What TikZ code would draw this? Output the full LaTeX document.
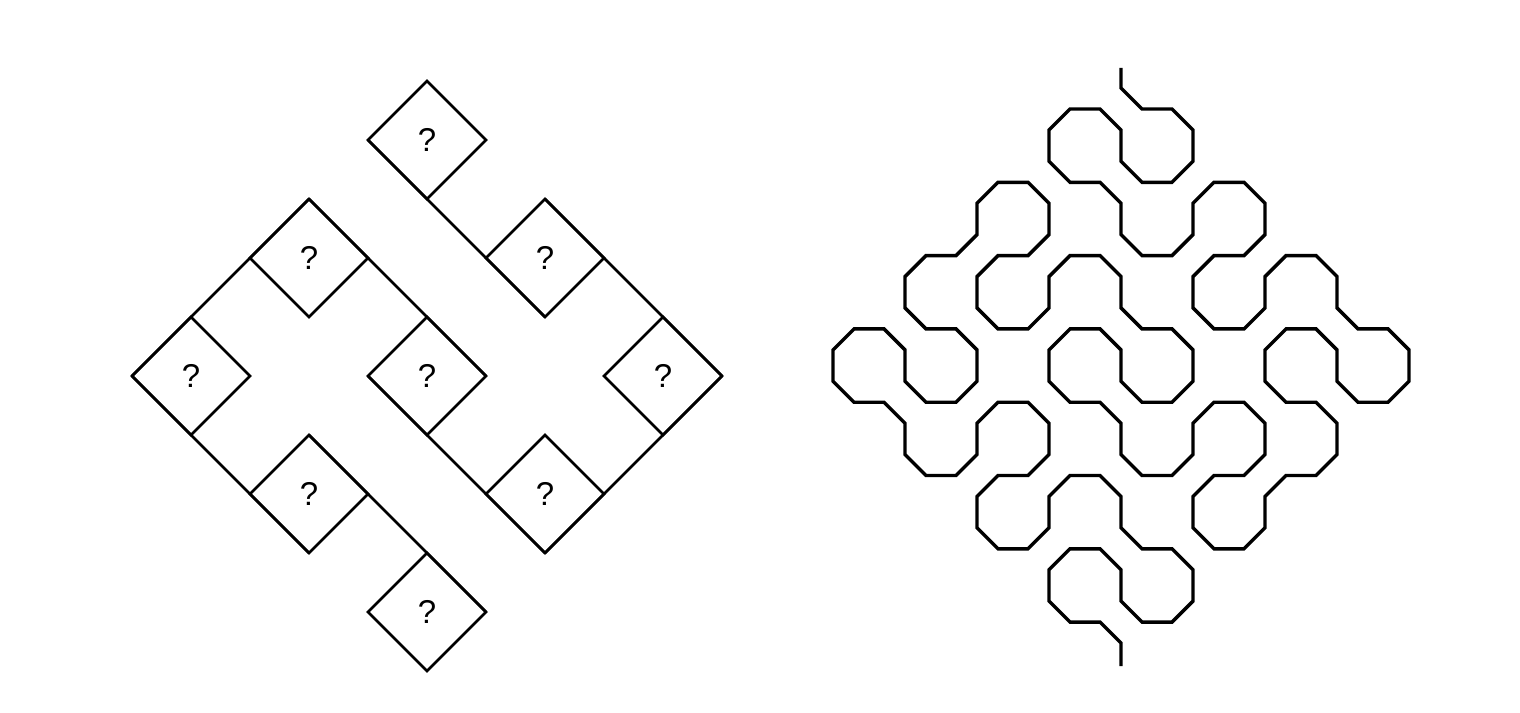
\documentclass[tikz,border=0pt]{standalone}
\usepackage{fontspec}
\setmainfont{Liberation Sans}
\usetikzlibrary{shapes.geometric,calc}
\begin{document}
\begin{tikzpicture}[x=0.5pt,y=-0.5pt,
  tile/.style={shape=diamond, draw, line width=1.4pt, minimum width=59pt, minimum height=59pt,
    inner sep=0pt, outer sep=0pt, font=\fontsize{16.5}{18}\selectfont},
  wire/.style={line width=1.4pt, line cap=round},
  curve/.style={line width=1.7pt, line join=miter}]
\useasboundingbox (0,0) rectangle (1520,712);

% ---- left figure: tiles with question marks
\node[tile] (dT)  at (427,140) {?};
\node[tile] (dUL) at (309,258) {?};
\node[tile] (dUR) at (545,258) {?};
\node[tile] (dL)  at (191,376) {?};
\node[tile] (dC)  at (427,376) {?};
\node[tile] (dR)  at (663,376) {?};
\node[tile] (dLL) at (309,494) {?};
\node[tile] (dLR) at (545,494) {?};
\node[tile] (dB)  at (427,612) {?};

\draw[wire] (dT.west) -- (dUR.south);
\draw[wire] (dUL.north) -- (dC.east);
\draw[wire] (dUL.north) -- (dL.west);
\draw[wire] (dUR.north) -- (dR.east);
\draw[wire] (dL.west) -- (dLL.south);
\draw[wire] (dC.west) -- (dLR.south);
\draw[wire] (dLR.south) -- (dR.east);
\draw[wire] (dLL.north) -- (dB.east);

% ---- right figure: chamfered curve
\foreach \i/\j [count=\k] in {0/-0.56, 0/0, 1/0, 1/1, 0/1, 0/0, -1/0, -1/1, 0/1, 0/2,
  1/2, 1/1, 2/1, 2/2, 1/2, 1/3, 2/3, 2/2, 3/2, 3/3,
  4/3, 4/4, 3/4, 3/3, 2/3, 2/4, 3/4, 3/5, 2/5, 2/6,
  1/6, 1/5, 2/5, 2/4, 1/4, 1/5, 0/5, 0/4, -1/4, -1/3,
  0/3, 0/4, 1/4, 1/3, 0/3, 0/2, -1/2, -1/3, -2/3, -2/2,
  -1/2, -1/1, -2/1, -2/2, -3/2, -3/3, -2/3, -2/4, -3/4, -3/3,
  -4/3, -4/4, -3/4, -3/5, -2/5, -2/4, -1/4, -1/5, -2/5, -2/6,
  -1/6, -1/5, 0/5, 0/6, 1/6, 1/7, 0/7, 0/6, -1/6, -1/7,
  0/7, 0/7.6}
  \coordinate (v\k) at ({1121+72*\i},{109+73.3*\j});

\draw[curve] (v1)
  foreach \k [evaluate=\k as \p using {int(\k-1)}, evaluate=\k as \n using {int(\k+1)}] in {2,...,81}
  { -- ($(v\k)!10.5pt!(v\p)$) -- ($(v\k)!10.5pt!(v\n)$) } -- (v82);
\end{tikzpicture}
\end{document}
